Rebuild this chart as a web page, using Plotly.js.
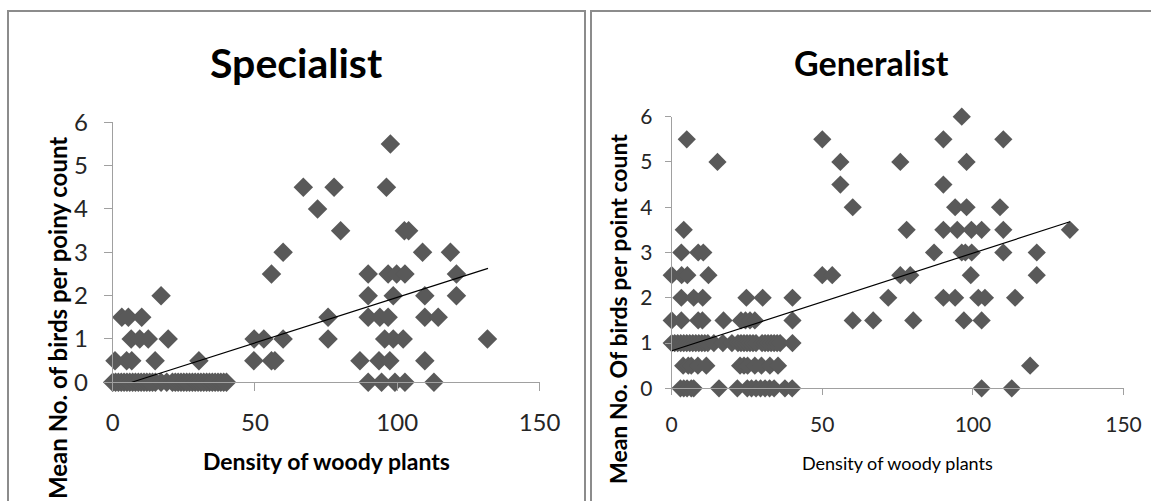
<!DOCTYPE html>
<html>
<head>
<meta charset="utf-8">
<script src="https://cdn.plot.ly/plotly-3.0.1.min.js"></script>
<style>html,body{margin:0;padding:0;background:#fff;}#chart{width:1151px;height:501px;}</style>
</head>
<body>
<div id="chart"></div>
<script>
// ---- Specialist panel data ----
const specialistX = [
  0,1,2,3,4,5,6,7,8,9,10,11,12,13,14,15,17,19,21,22,23,24,25,26,27,28,29,30,31,32,33,34,35,36,37,38,39,40,
  0.8,4.9,6.7,14.9,30.3,
  6.5,9.5,12.5,19.5,
  3.2,5.5,10.2,
  17,
  49.7,53.1,59.9,75.7,95.6,98.6,102.1,131.7,
  49.6,55.8,57,86.9,93.6,97.4,109.7,
  75.7,89.8,93.9,96.8,109.7,114.4,
  89.8,98.6,109.7,120.8,
  55.8,89.8,96.8,99.8,102.7,120.8,
  59.9,108.9,118.7,
  80.1,102.5,104,
  72,
  67,77.8,96.2,
  97.6,
  89.8,94.5,99.2,102.7,112.9
];
const specialistY = [
  0,0,0,0,0,0,0,0,0,0,0,0,0,0,0,0,0,0,0,0,0,0,0,0,0,0,0,0,0,0,0,0,0,0,0,0,0,0,
  0.5,0.5,0.5,0.5,0.5,
  1,1,1,1,
  1.5,1.5,1.5,
  2,
  1,1,1,1,1,1,1,1,
  0.5,0.5,0.5,0.5,0.5,0.5,0.5,
  1.5,1.5,1.5,1.5,1.5,1.5,
  2,2,2,2,
  2.5,2.5,2.5,2.5,2.5,2.5,
  3,3,3,
  3.5,3.5,3.5,
  4,
  4.5,4.5,4.5,
  5.5,
  0,0,0,0,0
];
const specialistTrendX = [6.7, 131.9];
const specialistTrendY = [0, 2.63];

// ---- Generalist panel data ----
const generalistX = [
  96.3,
  5,50,90.2,110.1,
  15.2,56,75.9,97.9,
  56,90.2,
  60.1,94.1,97.9,109,
  4,78,90.2,94.8,99.5,102.9,110.1,132.2,
  3.2,8.8,10.5,87.1,96.3,97.5,99.6,110.1,121.2,
  0,3.3,5.2,12.2,50,53.3,75.9,79.2,99.3,121.2,
  3.2,7.3,10.3,24.8,30.2,40.1,71.9,90.2,94.1,101.8,104,114,
  0,3.2,8.8,10.2,17.2,23,24.5,26,27.6,40.1,60.1,66.9,80.2,97,102.9,
  0,1,2,3,4,5,6,7,8,9,10,11,12,14,17,20,22,23,24,25,26,27,28,30,31,32,33,34,35,36,40.1,
  3.8,5.5,6.5,8.7,11.5,22.7,24,25.2,27.6,29.8,32.6,35.3,119,
  2.9,4,5.1,6.5,7.3,15.7,21.8,25.1,26.5,28,29.5,31,32.5,34,37.6,40,102.9,112.9
];
const generalistY = [
  6,
  5.5,5.5,5.5,5.5,
  5,5,5,5,
  4.5,4.5,
  4,4,4,4,
  3.5,3.5,3.5,3.5,3.5,3.5,3.5,3.5,
  3,3,3,3,3,3,3,3,3,
  2.5,2.5,2.5,2.5,2.5,2.5,2.5,2.5,2.5,2.5,
  2,2,2,2,2,2,2,2,2,2,2,2,
  1.5,1.5,1.5,1.5,1.5,1.5,1.5,1.5,1.5,1.5,1.5,1.5,1.5,1.5,1.5,
  1,1,1,1,1,1,1,1,1,1,1,1,1,1,1,1,1,1,1,1,1,1,1,1,1,1,1,1,1,1,1,
  0.5,0.5,0.5,0.5,0.5,0.5,0.5,0.5,0.5,0.5,0.5,0.5,0.5,
  0,0,0,0,0,0,0,0,0,0,0,0,0,0,0,0,0,0
];
const generalistTrendX = [0, 132.2];
const generalistTrendY = [0.83, 3.68];

// ---- Text ----
const panelTitles = ["Specialist", "Generalist"];
const xTitles = ["Density of woody plants", "Density of woody plants"];
const yTitles = ["Mean No. of birds per poiny count", "Mean No. Of birds per point count"];
const xTicks = [0, 50, 100, 150];
const yTicks = [0, 1, 2, 3, 4, 5, 6];

const W = 1151, H = 501;
const px = v => v / W;
const py = v => 1 - v / H;

const markerColor = '#595959';
const axisColor = '#a0a0a0';
const textColor = '#262626';
const FONT = 'Lato, "Open Sans", sans-serif';

const traces = [
  {x: specialistX, y: specialistY, xaxis: 'x', yaxis: 'y', type: 'scatter', mode: 'markers',
   marker: {symbol: 'diamond', size: 15, color: markerColor, line: {width: 0}}, cliponaxis: false, hoverinfo: 'none'},
  {x: specialistTrendX, y: specialistTrendY, xaxis: 'x', yaxis: 'y', type: 'scatter', mode: 'lines',
   line: {color: '#000', width: 1.2}, hoverinfo: 'none'},
  {x: generalistX, y: generalistY, xaxis: 'x2', yaxis: 'y2', type: 'scatter', mode: 'markers',
   marker: {symbol: 'diamond', size: 14, color: markerColor, line: {width: 0}}, cliponaxis: false, hoverinfo: 'none'},
  {x: generalistTrendX, y: generalistTrendY, xaxis: 'x2', yaxis: 'y2', type: 'scatter', mode: 'lines',
   line: {color: '#000', width: 1.2}, hoverinfo: 'none'}
];

function xAxis(domain, fs, tl, so, anchor) {
  return {domain: domain, anchor: anchor, range: [0, 150], tickvals: xTicks, showgrid: false, zeroline: false,
    showline: true, linecolor: axisColor, linewidth: 1, ticks: 'outside', ticklen: tl, tickcolor: axisColor,
    tickfont: {family: FONT, size: fs, color: textColor}, ticklabelstandoff: so, fixedrange: true};
}
function yAxis(domain, fs, tl, so, anchor) {
  return {domain: domain, anchor: anchor, range: [0, 6], tickvals: yTicks, showgrid: false, zeroline: false,
    showline: true, linecolor: axisColor, linewidth: 1, ticks: 'outside', ticklen: tl, tickcolor: axisColor,
    tickfont: {family: FONT, size: fs, color: textColor}, ticklabelstandoff: so, fixedrange: true};
}

const layout = {
  width: W, height: H,
  margin: {l: 0, r: 0, t: 0, b: 0, pad: 0},
  paper_bgcolor: '#ffffff', plot_bgcolor: '#ffffff',
  showlegend: false,
  font: {family: FONT, color: textColor},
  xaxis: xAxis([px(112.7), px(539.5)], 24, 8, 11, 'y'),
  yaxis: yAxis([py(382.3), py(122.3)], 24, 8, 11, 'x'),
  xaxis2: xAxis([px(671.7), px(1123.5)], 21, 6, 11, 'y2'),
  yaxis2: yAxis([py(388.3), py(116.7)], 21, 6, 8, 'x2'),
  shapes: [
    {type: 'rect', xref: 'paper', yref: 'paper', x0: px(8), x1: px(585), y0: -0.2, y1: py(11),
     line: {color: '#8c8c8c', width: 2}, fillcolor: 'rgba(0,0,0,0)', layer: 'below'},
    {type: 'rect', xref: 'paper', yref: 'paper', x0: px(591), x1: 1.1, y0: -0.2, y1: py(11),
     line: {color: '#8c8c8c', width: 2}, fillcolor: 'rgba(0,0,0,0)', layer: 'below'}
  ],
  annotations: [
    {text: panelTitles[0], xref: 'paper', yref: 'paper', x: px(296), y: py(63), xanchor: 'center', yanchor: 'middle',
     showarrow: false, font: {family: FONT, size: 41, weight: 'bold', color: '#000'}},
    {text: panelTitles[1], xref: 'paper', yref: 'paper', x: px(871), y: py(62.5), xanchor: 'center', yanchor: 'middle',
     showarrow: false, font: {family: FONT, size: 34, weight: 'bold', color: '#000'}},
    {text: xTitles[0], xref: 'paper', yref: 'paper', x: px(326), y: py(461), xanchor: 'center', yanchor: 'middle',
     showarrow: false, font: {family: FONT, size: 23, weight: 'bold', color: '#000'}},
    {text: xTitles[1], xref: 'paper', yref: 'paper', x: px(897.6), y: py(463), xanchor: 'center', yanchor: 'middle',
     showarrow: false, font: {family: FONT, size: 18, color: '#000'}},
    {text: yTitles[0], xref: 'paper', yref: 'paper', x: px(57), y: py(318), xanchor: 'center', yanchor: 'middle',
     textangle: -90, showarrow: false, font: {family: FONT, size: 24, weight: 'bold', color: '#000'}},
    {text: yTitles[1], xref: 'paper', yref: 'paper', x: px(618), y: py(309), xanchor: 'center', yanchor: 'middle',
     textangle: -90, showarrow: false, font: {family: FONT, size: 23, weight: 'bold', color: '#000'}}
  ]
};

Plotly.newPlot('chart', traces, layout, {displayModeBar: false, staticPlot: true});
</script>
</body>
</html>
